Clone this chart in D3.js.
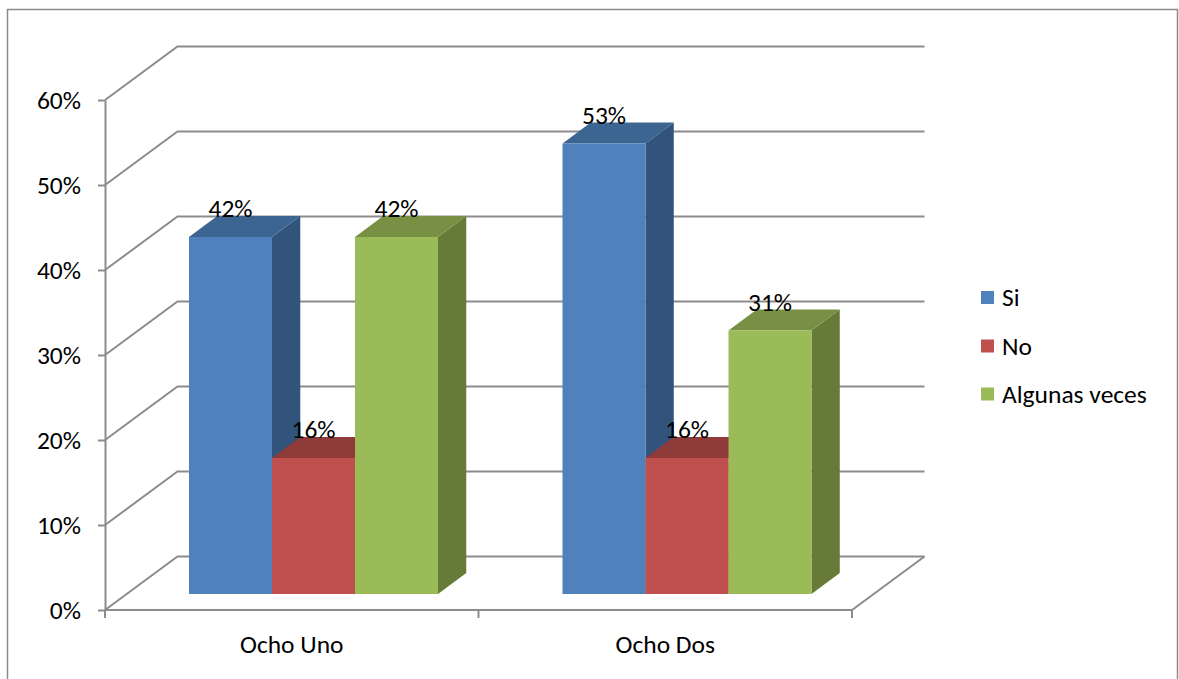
<!DOCTYPE html>
<html>
<head>
<meta charset="utf-8">
<script src="https://cdn.jsdelivr.net/npm/d3@7"></script>
<style>
  html, body { margin: 0; padding: 0; background: #fff; }
  svg { display: block; font-family: Calibri, Carlito, Lato, sans-serif; }
</style>
</head>
<body>
<svg id="chart" width="1179" height="679"></svg>
<script>
// data
const categories = ['Ocho Uno', 'Ocho Dos'];
const seriesNames = ['Si', 'No', 'Algunas veces'];
const seriesValues = [
    [0.42, 0.53],   // Si
    [0.16, 0.16],   // No
    [0.42, 0.31]    // Algunas veces
];
const yTicks = [0, 0.1, 0.2, 0.3, 0.4, 0.5, 0.6];

const colors = [
    { front: '#4f81bd', top: '#3c6592', side: '#32537b' },
    { front: '#c0504d', top: '#8f3b39', side: '#7f3331' },
    { front: '#9bbb59', top: '#779044', side: '#657b37' }
];

const fontSize = 25.5;
const svg = d3.select('#chart');

// outer frame
svg.append('path')
    .attr('d', 'M7.5,679 L7.5,9.5 L1177.5,9.5 L1177.5,679')
    .attr('fill', 'none').attr('stroke', '#8a8a8a').attr('stroke-width', 1.5);

// 3d projection: front plane + depth
const DX = 72.5, DY = -53.5;
const left = 105, right = 852;
const y = d3.scaleLinear().domain([0, 0.6]).range([610, 100]);
const x = d3.scaleBand().domain(categories).range([left, right]);
const proj = (px, v, d) => [px + d * DX, y(v) + d * DY];

const gridColor = '#8c8c8c';

// walls / gridlines
const grid = svg.append('g');
yTicks.forEach(v => {
    const a = proj(left, v, 0), b = proj(left, v, 1), c = proj(right, v, 1);
    grid.append('path')
        .attr('d', `M${a}L${b}L${c}`)
        .attr('fill', 'none').attr('stroke', gridColor).attr('stroke-width', 2);
});
// floor front edge + right edge
const f0 = proj(left, 0, 0), f1 = proj(right, 0, 0), f2 = proj(right, 0, 1);
grid.append('path')
    .attr('d', `M${f0}L${f1}L${f2}`)
    .attr('fill', 'none').attr('stroke', gridColor).attr('stroke-width', 2);

// value axis
const yAxis = svg.append('g')
    .attr('transform', `translate(${left},0)`)
    .call(d3.axisLeft(y).tickValues(yTicks).tickFormat(d3.format('.0%')).tickSize(7).tickSizeOuter(0).tickPadding(17));
yAxis.select('.domain').attr('stroke', gridColor).attr('stroke-width', 2);
yAxis.selectAll('.tick line').attr('stroke', gridColor).attr('stroke-width', 2);
yAxis.selectAll('.tick text').attr('font-size', fontSize).attr('fill', '#000')
    .attr('font-family', 'Calibri, Carlito, Lato, sans-serif');

// category axis
const xAxis = svg.append('g')
    .attr('transform', `translate(0,${y(0)})`)
    .call(d3.axisBottom(x).tickSize(0).tickPadding(25));
xAxis.select('.domain').remove();
xAxis.selectAll('.tick text').attr('font-size', fontSize).attr('fill', '#000')
    .attr('font-family', 'Calibri, Carlito, Lato, sans-serif');
const edges = categories.map(c => x(c)).concat([right]);
svg.append('g').selectAll('line').data(edges).join('line')
    .attr('x1', d => d).attr('x2', d => d)
    .attr('y1', y(0)).attr('y2', y(0) + 8)
    .attr('stroke', gridColor).attr('stroke-width', 2);

// bars
const gapRatio = 1.5;
const bw = x.bandwidth() / (seriesNames.length + gapRatio);
const d0 = 0.3, d1 = 0.69;
const barsG = svg.append('g');
const labelsG = svg.append('g');

categories.forEach((cat, ci) => {
    seriesNames.forEach((s, si) => {
        const v = seriesValues[si][ci];
        const x0 = x(cat) + bw * gapRatio / 2 + si * bw;
        const x1 = x0 + bw;
        const p = (px, vv, d) => proj(px, vv, d);
        const col = colors[si];
        const g = barsG.append('g');
        // side
        g.append('path')
            .attr('d', `M${p(x1, 0, d0)}L${p(x1, 0, d1)}L${p(x1, v, d1)}L${p(x1, v, d0)}Z`)
            .attr('fill', col.side);
        // top
        g.append('path')
            .attr('d', `M${p(x0, v, d0)}L${p(x1, v, d0)}L${p(x1, v, d1)}L${p(x0, v, d1)}Z`)
            .attr('fill', col.top);
        // front
        g.append('path')
            .attr('d', `M${p(x0, 0, d0)}L${p(x1, 0, d0)}L${p(x1, v, d0)}L${p(x0, v, d0)}Z`)
            .attr('fill', col.front);

        const fc = p((x0 + x1) / 2, v, d0);
        labelsG.append('text')
            .attr('x', fc[0])
            .attr('y', p(x0, v, d1)[1] + 1)
            .attr('text-anchor', 'middle')
            .attr('font-size', fontSize)
            .attr('fill', '#000')
            .text(d3.format('.0%')(v));
    });
});

// legend
const legend = svg.append('g').attr('transform', 'translate(981,0)');
const legendY = [297.5, 346, 394];
seriesNames.forEach((s, i) => {
    legend.append('rect')
        .attr('x', 0).attr('y', legendY[i] - 6.5)
        .attr('width', 13).attr('height', 13)
        .attr('fill', colors[i].front);
    legend.append('text')
        .attr('x', 21).attr('y', legendY[i])
        .attr('dy', '0.35em')
        .attr('font-size', fontSize)
        .attr('fill', '#000')
        .text(s);
});
</script>
</body>
</html>
